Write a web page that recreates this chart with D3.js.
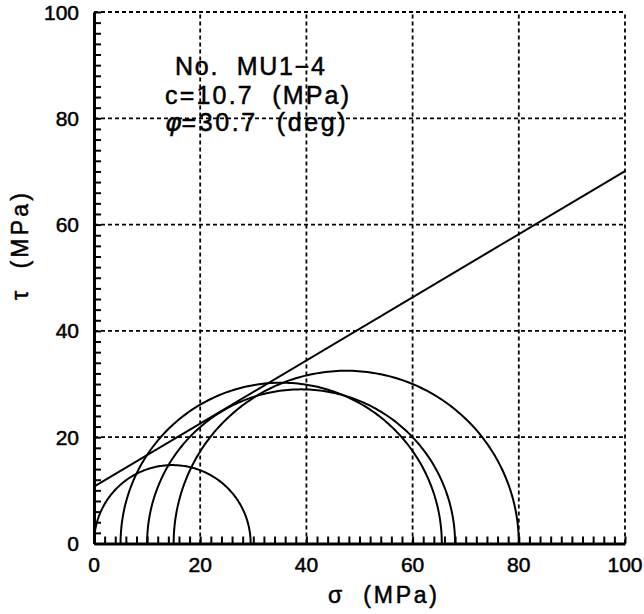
<!DOCTYPE html>
<html><head><meta charset="utf-8">
<script src="https://cdn.jsdelivr.net/npm/d3@7"></script>
<style>
html,body{margin:0;padding:0;background:#fff;}
text{font-family:"Liberation Sans",Arial,sans-serif;fill:#000;stroke:#000;stroke-width:0.5;white-space:pre;}
</style></head>
<body><svg id="c" width="644" height="614"></svg>
<script>
// Data
const sigma3 = [0, 5, 10, 15];          // minor principal stress (MPa)
const sigma1 = [29.5, 65.5, 68, 80];    // major principal stress (MPa)
const cohesion = 10.7;                  // MPa
const phiDeg = 30.7;                    // deg
const xTicks = [0, 20, 40, 60, 80, 100];
const yTicks = [0, 20, 40, 60, 80, 100];
const annotations = ["No.  MU1\u22124", "c=10.7  (MPa)", "=30.7  (deg)"];

const svg = d3.select("#c");
const L = 94, R = 625, T = 12, B = 543.5;
const x = d3.scaleLinear().domain([0, 100]).range([L, R]);
const y = d3.scaleLinear().domain([0, 100]).range([B, T]);

// grid (dashed) incl. top and right border
const g = svg.append("g");
xTicks.filter(d => d > 0).forEach(d => {
  g.append("line").attr("x1", x(d)).attr("x2", x(d)).attr("y1", y(0)).attr("y2", y(100))
    .attr("stroke", "#000").attr("stroke-width", 1.8).attr("stroke-dasharray", "4,3");
});
yTicks.filter(d => d > 0).forEach(d => {
  g.append("line").attr("x1", x(0)).attr("x2", x(100)).attr("y1", y(d)).attr("y2", y(d))
    .attr("stroke", "#000").attr("stroke-width", 1.8).attr("stroke-dasharray", "4,3");
});

// inward minor ticks every 2 units
const minor = d3.range(0, 101, 2);
svg.append("g").attr("transform", `translate(0,${B})`)
  .call(d3.axisTop(x).tickValues(minor).tickSize(7).tickFormat(() => "").tickSizeOuter(0))
  .call(s => s.selectAll("line").attr("stroke", "#000").attr("stroke-width", 2))
  .call(s => s.select(".domain").attr("stroke", "#000").attr("stroke-width", 3));
svg.append("g").attr("transform", `translate(${L},0)`)
  .call(d3.axisRight(y).tickValues(minor).tickSize(7).tickFormat(() => "").tickSizeOuter(0))
  .call(s => s.selectAll("line").attr("stroke", "#000").attr("stroke-width", 2))
  .call(s => s.select(".domain").attr("stroke", "#000").attr("stroke-width", 3));

// tick labels
svg.selectAll(".xl").data(xTicks).enter().append("text")
  .attr("x", d => x(d)).attr("y", 572).attr("text-anchor", "middle")
  .attr("font-size", 21).text(d => d);
svg.selectAll(".yl").data(yTicks).enter().append("text")
  .attr("x", 79).attr("y", d => y(d) + 7.5).attr("text-anchor", "end")
  .attr("font-size", 21).text(d => d);

// axis titles
svg.append("text").attr("x", 328).attr("y", 603)
  .attr("font-size", 23).attr("textLength", 109).attr("lengthAdjust", "spacing")
  .text("\u03C3  (MPa)");
svg.append("text").attr("transform", "translate(28,300) rotate(-90)")
  .attr("font-size", 23).attr("textLength", 107).attr("lengthAdjust", "spacing")
  .text("\u03C4  (MPa)");

// Mohr circles
const line = d3.line().x(d => x(d[0])).y(d => y(d[1]));
const angles = d3.range(0, 181, 1).map(a => a * Math.PI / 180);
sigma3.forEach((s3, i) => {
  const s1 = sigma1[i];
  const c = (s1 + s3) / 2, r = (s1 - s3) / 2;
  const pts = angles.map(a => [c + r * Math.cos(a), r * Math.sin(a)]);
  svg.append("path").attr("d", line(pts)).attr("fill", "none")
    .attr("stroke", "#000").attr("stroke-width", 2);
});

// failure envelope
const tanPhi = Math.tan(phiDeg * Math.PI / 180);
const env = [[0, cohesion], [100, cohesion + 100 * tanPhi]];
svg.append("path").attr("d", line(env)).attr("fill", "none")
  .attr("stroke", "#000").attr("stroke-width", 2);

// annotation
svg.append("text").attr("x", 175).attr("y", 75).attr("font-size", 25)
  .attr("textLength", 150).attr("lengthAdjust", "spacing").text(annotations[0]);
svg.append("text").attr("x", 165).attr("y", 104).attr("font-size", 25)
  .attr("textLength", 184).attr("lengthAdjust", "spacing").text(annotations[1]);
const t3 = svg.append("text").attr("x", 165).attr("y", 131).attr("font-size", 25);
t3.append("tspan").attr("font-family", "DejaVu Sans").attr("font-style", "italic").text("\u03C6");
t3.append("tspan").attr("textLength", 164).attr("lengthAdjust", "spacing").text(annotations[2]);
</script></body></html>
